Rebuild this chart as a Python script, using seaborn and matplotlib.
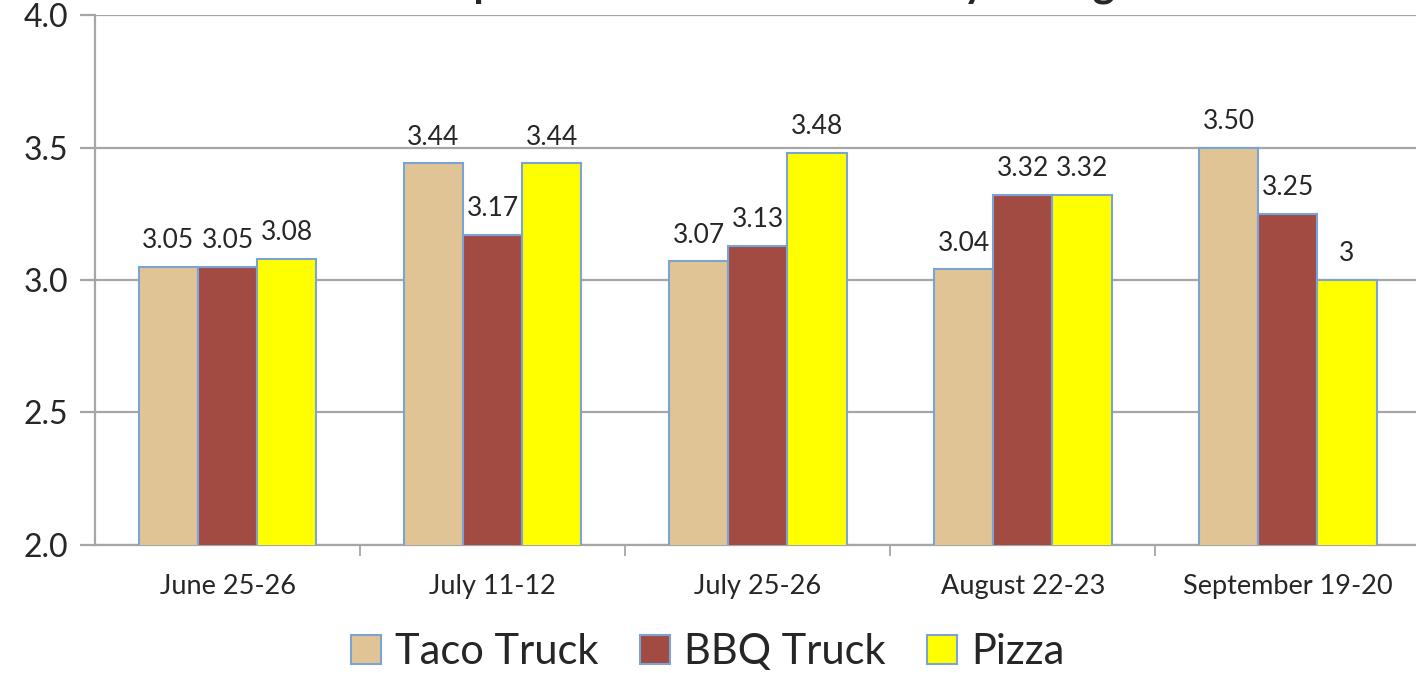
import matplotlib
matplotlib.use("Agg")
import matplotlib.pyplot as plt
from matplotlib.patches import Patch
from matplotlib.ticker import FixedLocator
import seaborn as sns
import pandas as pd

dates = ["June 25-26", "July 11-12", "July 25-26", "August 22-23", "September 19-20"]
vendors = ["Taco Truck", "BBQ Truck", "Pizza"]
taco = [3.05, 3.44, 3.07, 3.04, 3.50]
bbq = [3.05, 3.17, 3.13, 3.32, 3.25]
pizza = [3.08, 3.44, 3.48, 3.32, 3.00]
taco_labels = ["3.05", "3.44", "3.07", "3.04", "3.50"]
bbq_labels = ["3.05", "3.17", "3.13", "3.32", "3.25"]
pizza_labels = ["3.08", "3.44", "3.48", "3.32", "3"]
colors = ["#E0C495", "#A24B43", "#FFFF00"]
edge = "#7BA3D3"
grid_gray = "#A6A6A6"

df = pd.DataFrame({
    "date": dates * 3,
    "vendor": [v for v in vendors for _ in dates],
    "score": taco + bbq + pizza,
})

sns.set_style("white")
plt.rcParams["font.family"] = ["Lato", "DejaVu Sans"]

fig = plt.figure(figsize=(14.16, 6.73), dpi=100)
ax = fig.add_axes([0.0671, 0.1902, 0.936, 0.7875])

sns.barplot(data=df, x="date", y="score", hue="vendor", order=dates,
            hue_order=vendors, palette=colors, saturation=1, width=0.67,
            edgecolor=edge, linewidth=1.5, ax=ax, legend=False,
            errorbar=None, zorder=3)

ax.set_ylim(2.0, 4.0)
ax.set_xlim(-0.5, 4.5)
ax.set_yticks([2.0, 2.5, 3.0, 3.5, 4.0])
ax.set_yticklabels(["2.0", "2.5", "3.0", "3.5", "4.0"], fontsize=23)
ax.yaxis.grid(True, color=grid_gray, linewidth=1.6, zorder=0)
ax.set_axisbelow(True)
ax.tick_params(axis="y", length=11, width=1.6, color=grid_gray, pad=8, left=True)
ax.tick_params(axis="x", which="major", length=0, labelsize=19.5, pad=21)
ax.xaxis.set_minor_locator(FixedLocator([0.5, 1.5, 2.5, 3.5]))
ax.tick_params(axis="x", which="minor", length=8, width=1.3, color=grid_gray, bottom=True)
ax.set_xlabel("")
ax.set_ylabel("")
for s in ["top", "right"]:
    ax.spines[s].set_visible(False)
for s in ["left", "bottom"]:
    ax.spines[s].set_color(grid_gray)
    ax.spines[s].set_linewidth(1.6)

for cont, labs in zip(ax.containers, [taco_labels, bbq_labels, pizza_labels]):
    ax.bar_label(cont, labels=labs, padding=10, fontsize=19)

# legend below the plot
handles = [Patch(facecolor=c, edgecolor=edge, linewidth=1.5) for c in colors]
fig.legend(handles, vendors, loc="center", bbox_to_anchor=(0.5, 0.031), ncol=3,
           frameon=False, fontsize=30, handlelength=0.7, handleheight=0.7,
           handletextpad=0.35, columnspacing=1.0)

# title is clipped by the top edge in the original, only descenders show
fig.text(0.53, 1.005, "Comparison of Food Vendors by Rating", ha="center",
         va="baseline", fontsize=30, fontweight="bold")

fig.savefig("out.png", dpi=100)
